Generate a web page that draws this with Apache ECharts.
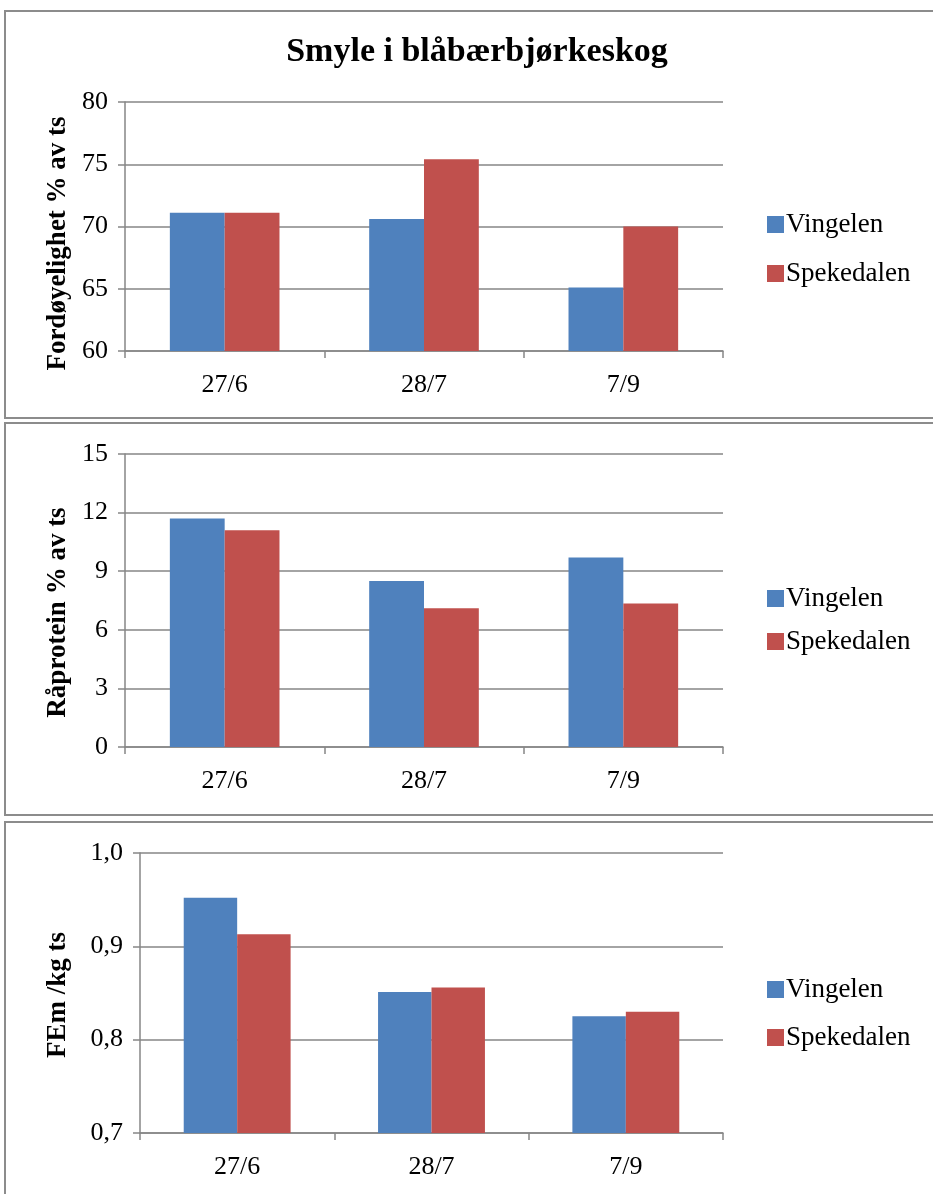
<!DOCTYPE html>
<html>
<head>
<meta charset="utf-8">
<script src="https://cdn.jsdelivr.net/npm/echarts@6/dist/echarts.min.js"></script>
<style>
html,body{margin:0;padding:0;background:#fff;}
#chart{width:933px;height:1194px;}
</style>
</head>
<body>
<div id="chart"></div>
<script>
const chartTitle = 'Smyle i blåbærbjørkeskog';
const seriesNames = ['Vingelen', 'Spekedalen'];
const categories = ['27/6', '28/7', '7/9'];

const fordVingelen = [71.1, 70.6, 65.1];
const fordSpekedalen = [71.1, 75.4, 70.0];
const protVingelen = [11.7, 8.5, 9.7];
const protSpekedalen = [11.1, 7.1, 7.35];
const femVingelen = [0.952, 0.851, 0.825];
const femSpekedalen = [0.913, 0.856, 0.830];

const fordTicks = [60, 65, 70, 75, 80];
const protTicks = [0, 3, 6, 9, 12, 15];
const femTicks = [0.7, 0.8, 0.9, 1.0];

const yNames = ['Fordøyelighet % av ts', 'Råprotein % av ts', 'FEm /kg ts'];

const FONT = '"Liberation Serif", "Times New Roman", serif';
const colors = ['#4f81bd', '#c0504d'];
const grey = '#868686';

const grids = [
  {left: 125, right: 210, top: 102, height: 249},
  {left: 125, right: 210, top: 454, height: 293},
  {left: 140, right: 210, top: 853, height: 280}
];
const tickSets = [fordTicks, protTicks, femTicks];
const nameGaps = [53, 53, 68];
const nameShift = [34, 24, 4];
const seriesData = [[fordVingelen, fordSpekedalen], [protVingelen, protSpekedalen], [femVingelen, femSpekedalen]];
const legendTops = [206, 580, 971];
const legendGaps = [22, 16, 21];

const xAxes = grids.map((g, i) => ({
  type: 'category',
  gridIndex: i,
  data: categories,
  axisLine: {lineStyle: {color: grey, width: 1.5}},
  axisTick: {show: true, length: 7, lineStyle: {color: grey, width: 1.5}},
  axisLabel: {color: '#000', fontFamily: FONT, fontSize: 26, margin: 21}
}));

const yAxes = grids.map((g, i) => {
  const t = tickSets[i];
  return {
    type: 'value',
    gridIndex: i,
    min: t[0],
    max: t[t.length - 1],
    interval: t[1] - t[0],
    name: yNames[i],
    nameLocation: 'middle',
    nameGap: nameGaps[i],
    nameTextStyle: {color: '#000', fontFamily: FONT, fontSize: 27, fontWeight: 'bold', padding: [0, nameShift[i], 0, 0]},
    axisLine: {show: true, lineStyle: {color: grey, width: 1.5}},
    axisTick: {show: true, length: 7, lineStyle: {color: grey, width: 1.5}},
    splitLine: {show: true, lineStyle: {color: grey, width: 1.6}},
    axisLabel: {
      color: '#000', fontFamily: FONT, fontSize: 26, margin: 17,
      formatter: i === 2 ? (v) => v.toFixed(1).replace('.', ',') : (v) => String(v)
    }
  };
});

const series = [];
seriesData.forEach((pair, gi) => {
  pair.forEach((d, si) => {
    series.push({
      type: 'bar',
      name: seriesNames[si],
      xAxisIndex: gi,
      yAxisIndex: gi,
      data: d,
      barGap: '0%',
      barCategoryGap: '45%',
      itemStyle: {color: colors[si]},
      emphasis: {disabled: true}
    });
  });
});

const legends = legendTops.map((t, i) => ({
  orient: 'vertical',
  left: 762,
  top: t,
  itemGap: legendGaps[i],
  itemWidth: 17,
  itemHeight: 17,
  icon: 'rect',
  data: seriesNames,
  textStyle: {color: '#000', fontFamily: FONT, fontSize: 27, padding: [0, 0, 0, -3]}
}));

const panelRects = [
  {y: 11, h: 407},
  {y: 423, h: 392},
  {y: 822, h: 400}
];

const chart = echarts.init(document.getElementById('chart'), null, {renderer: 'canvas'});
chart.setOption({
  backgroundColor: '#fff',
  animation: false,
  title: {
    text: chartTitle,
    left: 472,
    textAlign: 'center',
    top: 30,
    textStyle: {color: '#000', fontFamily: FONT, fontSize: 34, fontWeight: 'bold'}
  },
  graphic: panelRects.map(r => ({
    type: 'rect',
    shape: {x: 5, y: r.y, width: 960, height: r.h},
    style: {fill: 'none', stroke: '#8c8c8c', lineWidth: 2},
    silent: true,
    z: -1
  })),
  legend: legends,
  grid: grids,
  xAxis: xAxes,
  yAxis: yAxes,
  series: series
});
</script>
</body>
</html>
